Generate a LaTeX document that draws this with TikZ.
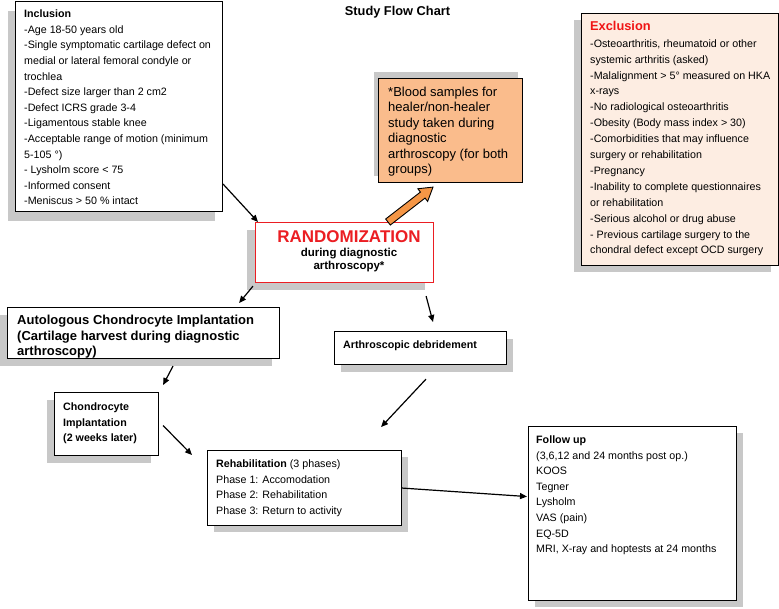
\documentclass[tikz,border=0pt]{standalone}
\usepackage{fontspec}
\setmainfont{Liberation Sans}
\usetikzlibrary{arrows.meta,calc}
\definecolor{shadowgray}{RGB}{200,200,200}
\definecolor{randred}{RGB}{235,30,35}
\definecolor{bloodfill}{RGB}{250,188,140}
\definecolor{arroworange}{RGB}{245,150,70}
\definecolor{exclfill}{RGB}{253,237,226}
\definecolor{excred}{RGB}{240,20,20}
\tikzset{
  boxshape/.style={draw=black, line width=1.1pt, fill=white, inner sep=0pt, anchor=north west},
  shadowbox/.style={fill=shadowgray, draw=none, inner sep=0pt, anchor=north west},
  txt/.style={inner sep=0pt, anchor=north west, align=left},
  normalfont/.style={font=\fontsize{10.7}{15.6}\selectfont},
  conn/.style={line width=1.2pt, -{Triangle[length=7pt,width=6pt]}},
}
\begin{document}
\begin{tikzpicture}[x=1pt,y=-1pt]
\fill[white] (0,0) rectangle (779,608);
\useasboundingbox (0,0) rectangle (779,608);

% title
\node[inner sep=0pt, anchor=base, font=\fontsize{12.8}{15}\selectfont\bfseries] (title) at (397.5,15) {Study Flow Chart};

% Inclusion
\node[shadowbox, minimum width=207pt, minimum height=210pt] (incl-sh) at (8,11) {};
\node[boxshape, minimum width=207pt, minimum height=210pt] (incl) at (15,1) {};
\node[txt, normalfont] (incl-t) at (24,6.6) {\strut\textbf{Inclusion}\\
-Age 18-50 years old\\
-Single symptomatic cartilage defect on\\
medial or lateral femoral condyle or\\
trochlea\\
-Defect size larger than 2 cm2\\
-Defect ICRS grade 3-4\\
-Ligamentous stable knee\\
-Acceptable range of motion (minimum\\
5-105 °)\\
- Lysholm score < 75\\
-Informed consent\\
-Meniscus > 50 \% intact};

% Exclusion
\node[shadowbox, minimum width=197pt, minimum height=252pt] (excl-sh) at (574,20) {};
\node[boxshape, fill=exclfill, minimum width=197pt, minimum height=252pt] (excl) at (581,13) {};
\node[inner sep=0pt, anchor=base west, text=excred, font=\fontsize{12.8}{15}\selectfont\bfseries] (excl-h) at (590,30.7) {Exclusion};
\node[txt, font=\fontsize{10.7}{15.9}\selectfont] (excl-t) at (590,35.9) {\strut-Osteoarthritis, rheumatoid or other\\
systemic arthritis (asked)\\
-Malalignment > 5° measured on HKA\\
x-rays\\
-No radiological osteoarthritis\\
-Obesity (Body mass index > 30)\\
-Comorbidities that may influence\\
surgery or rehabilitation\\
-Pregnancy\\
-Inability to complete questionnaires\\
or rehabilitation\\
-Serious alcohol or drug abuse\\
- Previous cartilage surgery to the\\
chondral defect except OCD surgery};

% Blood samples
\node[shadowbox, minimum width=144pt, minimum height=104pt] (blood-sh) at (374,72) {};
\node[boxshape, fill=bloodfill, minimum width=144pt, minimum height=104pt] (blood) at (378,78) {};
\node[txt, font=\fontsize{13}{15.5}\selectfont] (blood-t) at (388,85.2) {\strut*Blood samples for\\
healer/non-healer\\
study taken during\\
diagnostic\\
arthroscopy (for both\\
groups)};

% Randomization
\node[shadowbox, minimum width=178pt, minimum height=60pt] (rand-sh) at (247,230) {};
\node[boxshape, draw=randred, minimum width=178pt, minimum height=60pt] (rand) at (255,222) {};
\node[inner sep=0pt, anchor=base, text=randred, font=\fontsize{17}{20}\selectfont\bfseries] (rand-h) at (349,242.3) {RANDOMIZATION};
\node[inner sep=0pt, anchor=north, align=center, font=\fontsize{11.5}{13.5}\selectfont\bfseries] (rand-t) at (349,246.55) {\strut during diagnostic\\arthroscopy*};

% ACI
\node[shadowbox, minimum width=272pt, minimum height=51pt] (aci-sh) at (0,315) {};
\node[boxshape, minimum width=272pt, minimum height=51pt] (aci) at (7,307) {};
\node[txt, font=\fontsize{13}{15.5}\selectfont\bfseries] (aci-t) at (17,313.65) {\strut Autologous Chondrocyte Implantation\\
(Cartilage harvest during diagnostic\\
arthroscopy)};

% Chondrocyte implantation
\node[shadowbox, minimum width=104pt, minimum height=63pt] (chond-sh) at (47,400) {};
\node[boxshape, minimum width=104pt, minimum height=63pt] (chond) at (54,392) {};
\node[txt, font=\fontsize{10.7}{15.5}\selectfont\bfseries] (chond-t) at (63,399.65) {\strut Chondrocyte\\
Implantation\\
(2 weeks later)};

% Arthroscopic debridement
\node[shadowbox, minimum width=172pt, minimum height=33pt] (debr-sh) at (341,339) {};
\node[boxshape, minimum width=172pt, minimum height=33pt] (debr) at (334,331) {};
\node[inner sep=0pt, anchor=base west, font=\fontsize{10.7}{15.5}\selectfont\bfseries] (debr-t) at (343,348.5) {Arthroscopic debridement};

% Rehabilitation
\node[shadowbox, minimum width=194pt, minimum height=75pt] (rehab-sh) at (214,457) {};
\node[boxshape, minimum width=194pt, minimum height=75pt] (rehab) at (207,450) {};
\node[txt, font=\fontsize{10.7}{15.5}\selectfont] (rehab-t) at (216,456.65) {\strut\textbf{Rehabilitation} (3 phases)\\
Phase 1: Accomodation\\
Phase 2: Rehabilitation\\
Phase 3: Return to activity};

% Follow up
\node[shadowbox, minimum width=208pt, minimum height=174pt] (follow-sh) at (535,433) {};
\node[boxshape, minimum width=208pt, minimum height=174pt] (follow) at (528,426) {};
\node[txt, normalfont] (follow-t) at (536,432.4) {\strut\textbf{Follow up}\\
(3,6,12 and 24 months post op.)\\
KOOS\\
Tegner\\
Lysholm\\
VAS (pain)\\
EQ-5D\\
MRI, X-ray and hoptests at 24 months};

% connectors
\draw[conn] ($(incl.south east)+(0,-28)$) -- ($(rand.north west)+(3,0)$);
\draw[conn] ($(rand.south west)+(-2,3)$) -- ($(aci.north east)+(-41,-4)$);
\draw[conn] ($(rand.south east)+(-8,13)$) -- ($(debr.north west)+(99,-9)$);
\draw[conn] ($(aci.south west)+(166,7)$) -- ($(chond.north east)+(4,-7)$);
\draw[conn] ($(chond.east)+(4,1.5)$) -- ($(rehab.north west)+(-15,5)$);
\draw[conn] ($(debr.south west)+(92,14)$) -- ($(rehab.north east)+(-21,-23)$);
\draw[conn] (rehab.east) -- ($(follow.west)+(-1,-17)$);

% orange block arrow to blood box
\coordinate (oa) at ($(rand.north west)+(133,0)$);
\coordinate (ob) at ($(blood.south west)+(55,4)$);
\coordinate (hb) at ($(ob)!13pt!(oa)$);
\draw[fill=arroworange, line width=0.9pt, line join=miter]
  ($(oa)!3.8pt!90:(ob)$) -- ($(hb)!3.8pt!90:(ob)$) -- ($(hb)!8pt!90:(ob)$) -- (ob)
  -- ($(hb)!8pt!-90:(ob)$) -- ($(hb)!3.8pt!-90:(ob)$) -- ($(oa)!3.8pt!-90:(ob)$) -- cycle;
\end{tikzpicture}
\end{document}
